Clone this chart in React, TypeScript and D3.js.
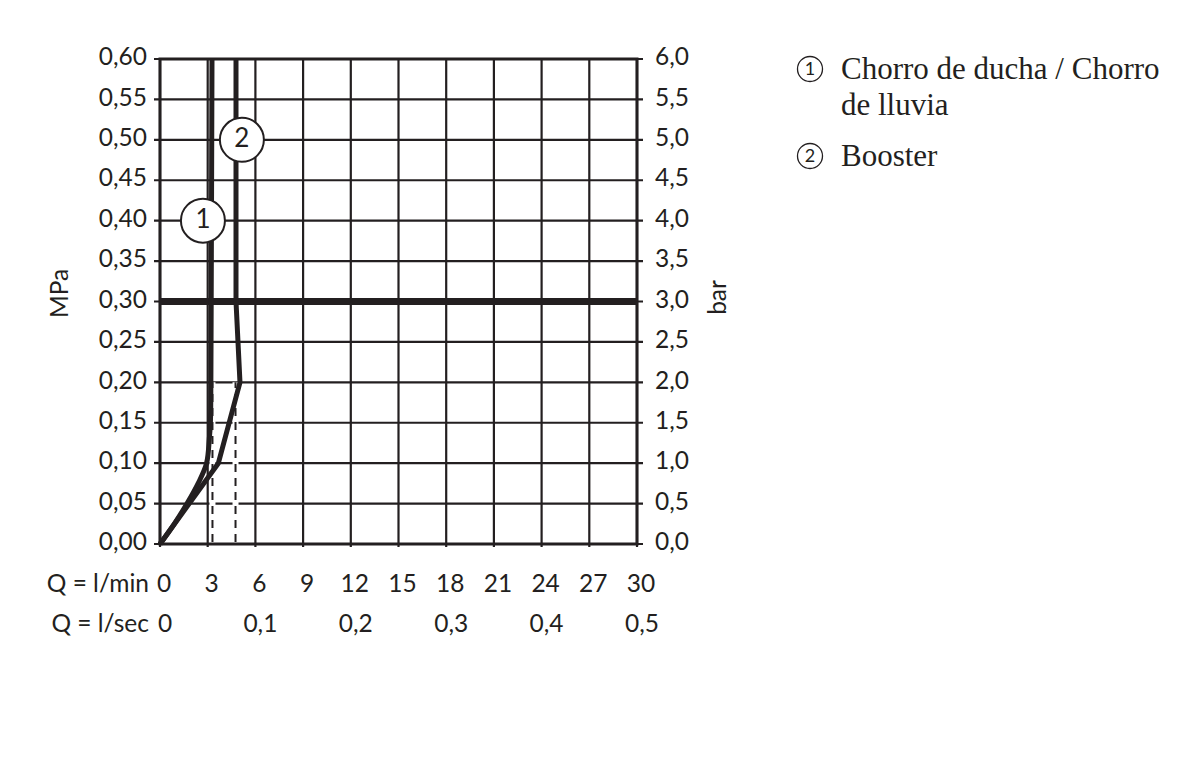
import React from "react";
import * as d3 from "d3";

// flow in l/min, pressure in MPa
const flowTicks = [0, 3, 6, 9, 12, 15, 18, 21, 24, 27, 30];
const secTickFlow = [0, 6, 12, 18, 24, 30];
const secTickLabels = ["0", "0,1", "0,2", "0,3", "0,4", "0,5"];
const mpaTicks = [0, 0.05, 0.1, 0.15, 0.2, 0.25, 0.3, 0.35, 0.4, 0.45, 0.5, 0.55, 0.6];
const mpaLabels = ["0,00", "0,05", "0,10", "0,15", "0,20", "0,25", "0,30", "0,35", "0,40", "0,45", "0,50", "0,55", "0,60"];
const barLabels = ["0,0", "0,5", "1,0", "1,5", "2,0", "2,5", "3,0", "3,5", "4,0", "4,5", "5,0", "5,5", "6,0"];

const curve1Q = [0, 0.9, 1.7, 2.4, 2.93, 3.1, 3.17, 3.2, 3.22, 3.27];
const curve1P = [0, 0.025, 0.05, 0.075, 0.1, 0.13, 0.15, 0.2, 0.3, 0.6];
const curve2Q = [0, 3.67, 5.03, 4.78, 4.78];
const curve2P = [0, 0.1, 0.2, 0.3, 0.6];

const dashQ = [3.3, 4.75];
const dashTop = 0.2;
const refPressure = 0.3;

const markerLabels = ["1", "2"];
const markerQ = [2.7, 5.15];
const markerP = [0.4, 0.5];

const legendLines = [["Chorro de ducha / Chorro", "de lluvia"], ["Booster"]];

const sans = "Lato, 'Open Sans', sans-serif";
const serif = "'Liberation Serif', 'Times New Roman', serif";
const ink = "#231f20";

export default function App() {
  const x = d3.scaleLinear().domain([0, 30]).range([160, 637]);
  const y = d3.scaleLinear().domain([0, 0.6]).range([544, 59]);

  const line = d3
    .line<[number, number]>()
    .x((d) => x(d[0]))
    .y((d) => y(d[1]));
  const smooth = d3
    .line<[number, number]>()
    .x((d) => x(d[0]))
    .y((d) => y(d[1]))
    .curve(d3.curveCatmullRom);

  const c1 = curve1Q.map((q, i) => [q, curve1P[i]] as [number, number]);
  const c2 = curve2Q.map((q, i) => [q, curve2P[i]] as [number, number]);

  const label = { fontFamily: sans, fontSize: 24.5, fontWeight: 400, fill: ink };

  return (
    <svg
      width={1200}
      height={765}
      style={{ position: "absolute", left: 0, top: 0, background: "#fff" }}
    >
      {/* grid */}
      {mpaTicks.map((p) => (
        <line key={"h" + p} x1={x(0) - 6} x2={x(30) + 6} y1={y(p)} y2={y(p)} stroke={ink} strokeWidth={2.2} />
      ))}
      {flowTicks.map((q) => (
        <line key={"v" + q} x1={x(q)} x2={x(q)} y1={y(0) + 3} y2={y(0.6)} stroke={ink} strokeWidth={2.2} />
      ))}
      {/* frame */}
      <rect x={x(0)} y={y(0.6)} width={x(30) - x(0)} height={y(0) - y(0.6)} fill="none" stroke={ink} strokeWidth={3} />
      <line x1={x(0)} x2={x(30)} y1={y(refPressure)} y2={y(refPressure)} stroke={ink} strokeWidth={7} />

      {/* dashed drops */}
      {dashQ.map((q) => (
        <g key={"d" + q}>
          <line x1={x(q)} x2={x(q)} y1={y(0) - 2} y2={y(dashTop)} stroke="#fff" strokeWidth={6} />
          <line x1={x(q)} x2={x(q)} y1={y(0) - 2} y2={y(dashTop)} stroke={ink} strokeWidth={2} strokeDasharray="8 6" />
        </g>
      ))}

      {/* curves */}
      <path d={smooth(c1) || ""} fill="none" stroke={ink} strokeWidth={5} strokeLinejoin="round" />
      <path d={line(c2) || ""} fill="none" stroke={ink} strokeWidth={5} strokeLinejoin="round" />

      {markerLabels.map((m, i) => (
        <g key={"m" + m}>
          <circle cx={x(markerQ[i])} cy={y(markerP[i])} r={22} fill="#fff" stroke={ink} strokeWidth={2} />
          <text x={x(markerQ[i])} y={y(markerP[i]) + 1} textAnchor="middle" dominantBaseline="middle" {...label} fontSize={26}>
            {m}
          </text>
        </g>
      ))}

      {/* left axis labels */}
      {mpaTicks.map((p, i) => (
        <text key={"l" + p} x={147} y={y(p)} textAnchor="end" dominantBaseline="middle" {...label}>
          {mpaLabels[i]}
        </text>
      ))}
      {mpaTicks.map((p, i) => (
        <text key={"r" + p} x={655} y={y(p)} textAnchor="start" dominantBaseline="middle" {...label}>
          {barLabels[i]}
        </text>
      ))}
      <text transform={`translate(68, ${y(0.31)}) rotate(-90)`} textAnchor="middle" {...label}>
        MPa
      </text>
      <text transform={`translate(726, ${y(0.305)}) rotate(-90)`} textAnchor="middle" {...label}>
        bar
      </text>

      {/* bottom labels */}
      <text x={149} y={592} textAnchor="end" {...label}>
        Q = l/min
      </text>
      {flowTicks.map((q) => (
        <text key={"b" + q} x={x(q) + 4} y={592} textAnchor="middle" {...label}>
          {q}
        </text>
      ))}
      <text x={149} y={632} textAnchor="end" {...label}>
        Q = l/sec
      </text>
      {secTickFlow.map((q, i) => (
        <text key={"s" + q} x={x(q) + 5} y={632} textAnchor="middle" {...label}>
          {secTickLabels[i]}
        </text>
      ))}

      {/* legend */}
      {legendLines.map((lines, i) => {
        const top = i === 0 ? 79 : 166;
        return (
          <g key={"lg" + i}>
            <circle cx={810} cy={top - 10} r={12.5} fill="none" stroke={ink} strokeWidth={1.3} />
            <text x={810} y={top - 9} textAnchor="middle" dominantBaseline="middle" {...label} fontSize={18}>
              {markerLabels[i]}
            </text>
            {lines.map((t, j) => (
              <text key={t} x={841} y={top + j * 36} fontFamily={serif} fontSize={31} fill={ink}>
                {t}
              </text>
            ))}
          </g>
        );
      })}
    </svg>
  );
}
